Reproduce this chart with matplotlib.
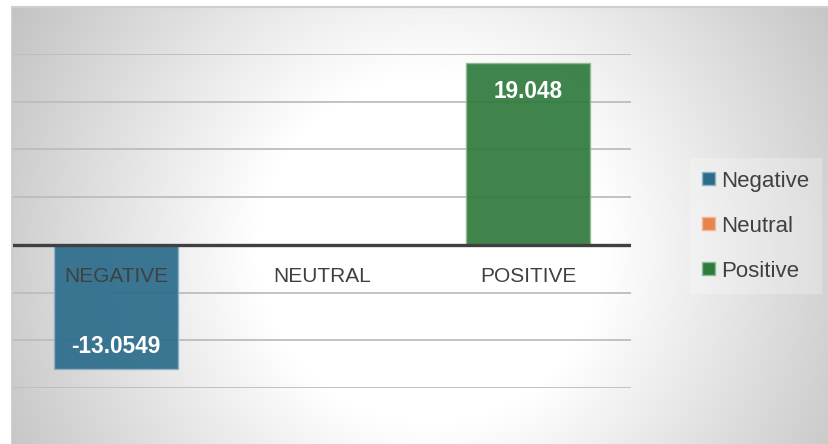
import numpy as np
import matplotlib.pyplot as plt
from matplotlib.patches import Patch

plt.rcParams['font.family'] = ['Liberation Sans', 'DejaVu Sans']

categories = ['NEGATIVE', 'NEUTRAL', 'POSITIVE']
series = ['Negative', 'Neutral', 'Positive']
values = [-13.0549, 0.0, 19.048]
labels = ['-13.0549', '', '19.048']
bar_colors = ['#2B6C8B', '#E8834E', '#2F7A3D']
edge_colors = ['#8FB3C6', '#F3B896', '#8DBB95']
yticks = [-15, -10, -5, 0, 5, 10, 15, 20]

W, H = 829, 444
fig = plt.figure(figsize=(W / 100, H / 100), dpi=100)

# radial grey background of the chart area
x0, y0 = 12, 7
bg = fig.add_axes([x0 / W, 0, 1 - x0 / W, (H - y0) / H])
xx, yy = np.meshgrid(np.arange(x0, W), np.arange(y0, H))
d = np.hypot(xx - 430, yy - 250)
v = 1 - 0.23 * np.clip((d - 174) / (475 - 174), 0, 1.1)
bg.imshow(np.dstack([v, v, v]), aspect='auto', extent=[0, 1, 0, 1])
bg.set_xlim(0, 1)
bg.set_ylim(0, 1)
bg.set_xticks([])
bg.set_yticks([])
for s in ['right', 'bottom']:
    bg.spines[s].set_visible(False)
bg.spines['left'].set_color('#c8c8c8')
bg.spines['top'].set_color('#cfcfcf')
bg.spines['left'].set_linewidth(1.2)
bg.spines['top'].set_linewidth(1.5)

# plot area
left, right = 13, 631
top, bottom = 54, 388
ax = fig.add_axes([left / W, 1 - bottom / H, (right - left) / W, (bottom - top) / H])
ax.patch.set_alpha(0)
ax.set_xlim(-0.5, 2.5)
ax.set_ylim(-15, 20)
for yt in yticks:
    if yt != 0:
        ax.axhline(yt, color='#bdbdbd', lw=1.3, zorder=1)

x = np.arange(len(categories))
bars = ax.bar(x, values, width=0.6, color=bar_colors, edgecolor=edge_colors,
              linewidth=1.0, alpha=0.92, zorder=2)
ax.axhline(0, color='#404040', lw=2.4, zorder=3)

for xi, c in zip(x, categories):
    ax.text(xi, -3.35, c, ha='center', va='center', fontsize=15, color='#404040', zorder=4)

for b, lab in zip(bars, labels):
    if not lab:
        continue
    h = b.get_height()
    yl = h - 2.95 if h > 0 else h + 2.4
    ax.text(b.get_x() + b.get_width() / 2, yl, lab, ha='center', va='center',
            fontsize=16.3, fontweight='bold', color='white', zorder=4)

ax.set_xticks([])
ax.set_yticks([])
for s in ax.spines.values():
    s.set_visible(False)

handles = [Patch(facecolor=c, edgecolor=e, linewidth=1.0) for c, e in zip(bar_colors, edge_colors)]
leg = fig.legend(handles, series, loc='center', bbox_to_anchor=(756 / W, 1 - 226 / H),
                 fontsize=16, frameon=True, fancybox=False, labelspacing=1.08,
                 handlelength=0.55, handleheight=0.55, handletextpad=0.3,
                 borderpad=0.55, labelcolor='#404040')
leg.get_frame().set_facecolor('#ffffff')
leg.get_frame().set_alpha(0.25)
leg.get_frame().set_edgecolor('none')

fig.savefig('out.png', dpi=100)
